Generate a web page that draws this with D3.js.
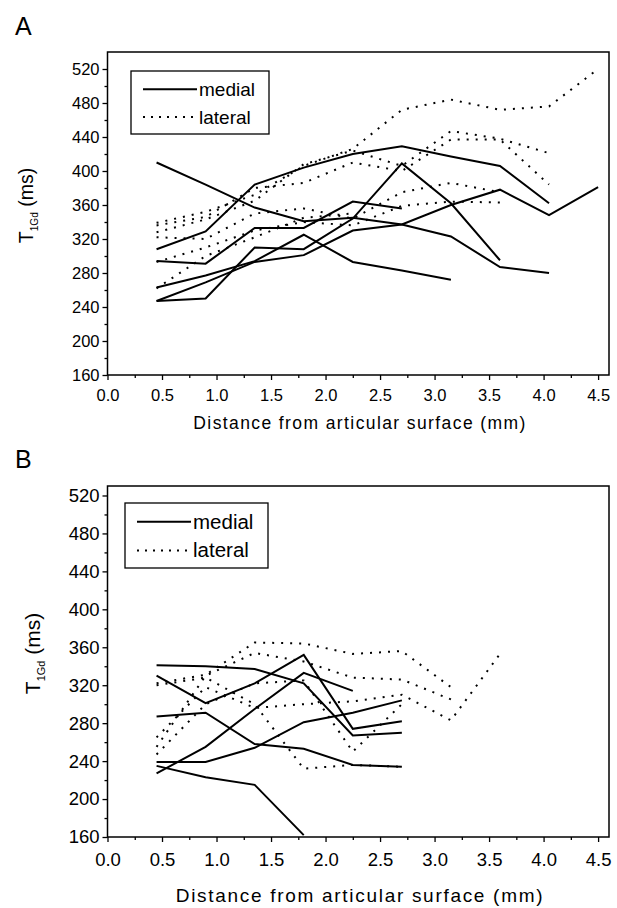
<!DOCTYPE html>
<html>
<head>
<meta charset="utf-8">
<script src="https://cdn.jsdelivr.net/npm/d3@7"></script>
<style>
  body { margin: 0; background: #fff; }
  text { font-family: Arial, "Liberation Sans", sans-serif; fill: #000; }
</style>
</head>
<body>
<div id="chart"></div>
<script>
// distances from the articular surface (mm), shared by every profile
const depths = [0.45, 0.9, 1.35, 1.8, 2.25, 2.7, 3.15, 3.6, 4.05, 4.5];

// panel A, T1Gd (ms) per profile
const medialA = [
  [410, 384, 357, 341, 345, 337, 323, 287, 280],
  [308, 329, 384, 404, 420, 429, 417, 406, 362],
  [294, 291, 333, 333, 364, 356],
  [263, 277, 294, 325, 293, 283, 272],
  [247, 250, 310, 308, 344, 409, 362, 295],
  [247, 269, 293, 301, 330, 337, 360, 378, 348, 381]
];
const lateralA = [
  [339, 352, 372, 406, 426, 472, 484, 472, 476, 520],
  [336, 346, 380, 386, 410, 400, 437, 437, 384],
  [328, 343, 365, 408, 424, 406, 447, 438, 421],
  [322, 320, 350, 356, 344, 375, 386, 375],
  [293, 310, 330, 340, 336, 359, 364, 363],
  [262, 300, 322, 345, 350]
];

// panel B
const medialB = [
  [341, 340, 337, 322, 267, 270],
  [330, 301, 322, 352, 274, 282],
  [287, 291, 258, 253, 236, 234],
  [227, 255, 295, 333, 314],
  [239, 239, 254, 281, 291, 304],
  [235, 223, 215, 162]
];
const lateralB = [
  [322, 331, 365, 364, 353, 356, 318],
  [255, 330, 354, 345, 328, 326, 305],
  [265, 318, 296, 300, 303, 310, 283, 353],
  [320, 328, 300, 232, 236, 234],
  [247, 300, 322, 325, 250, 300]
];

const yTicks = [160, 200, 240, 280, 320, 360, 400, 440, 480, 520];
const xTicks = [0, 0.5, 1, 1.5, 2, 2.5, 3, 3.5, 4, 4.5];
const legendLabels = ["medial", "lateral"];

const width = 617, height = 908;
const svg = d3.select("#chart").append("svg")
  .attr("width", width).attr("height", height);

// panel A is printed a little smaller than panel B
const panels = [
  { name: "A", medial: medialA, lateral: lateralA, yMax: 540,
    top: 52, bottom: 375, letterY: 35, tickY: 401, titleY: 429, yLabelX: 33,
    tickFont: 16.5, titleFont: 17.5, titleSpacing: 1.4, yFont: 19.5, legendFont: 19,
    legend: { x: 131, y: 71, w: 138, h: 63 } },
  { name: "B", medial: medialB, lateral: lateralB, yMax: 530,
    top: 486, bottom: 837, letterY: 468, tickY: 866, titleY: 902, yLabelX: 40,
    tickFont: 18.5, titleFont: 19, titleSpacing: 1.7, yFont: 21, legendFont: 20.5,
    legend: { x: 125, y: 503, w: 143, h: 65 } }
];

panels.forEach(drawPanel);

function drawPanel(p) {
  const left = 107.5, right = 609;
  const x = d3.scaleLinear().domain([0, 4.6]).range([left, right]);
  const y = d3.scaleLinear().domain([160, p.yMax]).range([p.bottom, p.top]);
  const g = svg.append("g");

  // panel letter
  g.append("text").attr("x", 15).attr("y", p.letterY)
    .attr("font-size", 25).text(p.name);

  // minor ticks
  g.append("g").attr("transform", `translate(${left},0)`)
    .call(d3.axisLeft(y).tickValues(d3.range(180, p.yMax, 40)).tickSize(3).tickFormat(""))
    .call(a => a.select(".domain").remove())
    .call(a => a.selectAll("line").attr("stroke-width", 1.3));
  g.append("g").attr("transform", `translate(0,${p.bottom})`)
    .call(d3.axisBottom(x).tickValues(d3.range(0.25, 4.6, 0.5)).tickSize(3).tickFormat(""))
    .call(a => a.select(".domain").remove())
    .call(a => a.selectAll("line").attr("stroke-width", 1.3));

  // major ticks
  const yAxis = g.append("g").attr("transform", `translate(${left},0)`)
    .call(d3.axisLeft(y).tickValues(yTicks).tickSize(5).tickPadding(3).tickFormat(d3.format("d")));
  yAxis.select(".domain").remove();
  yAxis.selectAll("line").attr("stroke-width", 1.3);
  yAxis.selectAll("text").attr("font-size", p.tickFont).attr("font-family", "Arial, 'Liberation Sans', sans-serif");

  const xAxis = g.append("g").attr("transform", `translate(0,${p.bottom})`)
    .call(d3.axisBottom(x).tickValues(xTicks).tickSize(5).tickFormat(d3.format(".1f")));
  xAxis.select(".domain").remove();
  xAxis.selectAll("line").attr("stroke-width", 1.3);
  xAxis.selectAll("text").attr("font-size", p.tickFont).attr("font-family", "Arial, 'Liberation Sans', sans-serif")
    .attr("y", null).attr("dy", null)
    .attr("transform", `translate(0,${p.tickY - p.bottom})`);

  // frame
  g.append("rect").attr("x", left).attr("y", p.top)
    .attr("width", right - left).attr("height", p.bottom - p.top)
    .attr("fill", "none").attr("stroke", "#000").attr("stroke-width", 1.5);

  // x title
  g.append("text").attr("x", 360).attr("y", p.titleY)
    .attr("text-anchor", "middle").attr("font-size", p.titleFont)
    .attr("letter-spacing", p.titleSpacing)
    .text("Distance from articular surface (mm)");

  // y title
  const yMid = (p.top + p.bottom) / 2 - 8;
  const yl = g.append("text")
    .attr("transform", `translate(${p.yLabelX},${yMid}) rotate(-90)`)
    .attr("text-anchor", "middle").attr("font-size", p.yFont);
  yl.append("tspan").text("T");
  yl.append("tspan").attr("font-size", p.yFont * 0.52).attr("dy", 5).text("1Gd");
  yl.append("tspan").attr("dy", -5).text(" (ms)");

  const line = d3.line()
    .x((d, i) => x(depths[i]))
    .y(d => y(d));

  g.append("g").selectAll("path").data(p.lateral).join("path")
    .attr("d", line).attr("fill", "none").attr("stroke", "#000")
    .attr("stroke-width", 2).attr("stroke-dasharray", "2,7");

  g.append("g").selectAll("path").data(p.medial).join("path")
    .attr("d", line).attr("fill", "none").attr("stroke", "#000")
    .attr("stroke-width", 2);

  // legend
  const L = p.legend;
  const lg = g.append("g");
  lg.append("rect").attr("x", L.x).attr("y", L.y).attr("width", L.w).attr("height", L.h)
    .attr("fill", "#fff").attr("stroke", "#000").attr("stroke-width", 1.3);
  legendLabels.forEach((lab, i) => {
    const ly = L.y + L.h * (0.29 + i * 0.44);
    lg.append("line").attr("x1", L.x + 12).attr("x2", L.x + 66)
      .attr("y1", ly).attr("y2", ly).attr("stroke", "#000").attr("stroke-width", 2)
      .attr("stroke-dasharray", i === 0 ? null : "2,6");
    lg.append("text").attr("x", L.x + 68).attr("y", ly + 7)
      .attr("font-size", p.legendFont).text(lab);
  });
}
</script>
</body>
</html>
